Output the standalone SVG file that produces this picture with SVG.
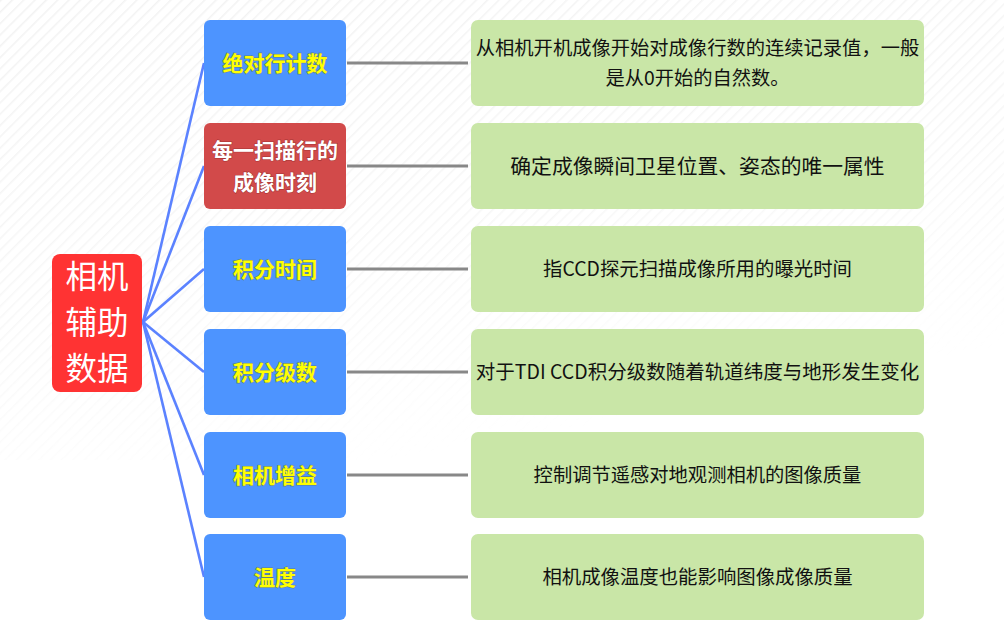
<svg xmlns="http://www.w3.org/2000/svg" width="1004" height="629" viewBox="0 0 1004 629">
<defs>
<pattern id="hatch" width="8" height="8" patternUnits="userSpaceOnUse" patternTransform="rotate(45)">
<line x1="0" y1="0" x2="0" y2="8" stroke="#f2f2f2" stroke-width="3"/>
</pattern>
<linearGradient id="fade" x1="0" y1="0" x2="0.4" y2="1">
<stop offset="0" stop-color="#fff" stop-opacity="1"/>
<stop offset="0.6" stop-color="#fff" stop-opacity="0.6"/>
<stop offset="1" stop-color="#fff" stop-opacity="0"/>
</linearGradient>
<mask id="m"><rect x="0" y="0" width="1004" height="460" fill="url(#fade)"/></mask>
</defs>
<style>
.cn{font-family:"Noto Sans CJK SC","Microsoft YaHei",sans-serif;}
.blue{fill:#4d94ff;}
.green{fill:#c9e6a7;}
.lbl{font-weight:bold;font-size:21px;fill:#ffff00;text-anchor:middle;paint-order:stroke;stroke:#6b6b20;stroke-width:1.2;stroke-opacity:0.55;}
.wl{font-weight:bold;font-size:21px;fill:#ffffff;text-anchor:middle;paint-order:stroke;stroke:#7a2020;stroke-width:1.2;stroke-opacity:0.5;}
.desc{fill:#111;text-anchor:middle;}
.root{font-size:31.5px;fill:#fff;text-anchor:middle;}
.blink{stroke:#5b82ff;stroke-width:2.6;fill:none;}
.glink{stroke:#888;stroke-width:3;}
</style>
<rect width="1004" height="629" fill="#fff"/>
<rect width="1004" height="460" fill="url(#hatch)" mask="url(#m)"/>
<g id="connectors">
<line class="blink" x1="143" y1="322" x2="204" y2="63"/>
<line class="blink" x1="143" y1="322" x2="204" y2="166"/>
<line class="blink" x1="143" y1="322" x2="204" y2="269"/>
<line class="blink" x1="143" y1="322" x2="204" y2="372"/>
<line class="blink" x1="143" y1="322" x2="204" y2="475"/>
<line class="blink" x1="143" y1="322" x2="204" y2="577"/>
<line class="glink" x1="347" y1="63" x2="468" y2="63"/>
<line class="glink" x1="347" y1="166" x2="468" y2="166"/>
<line class="glink" x1="347" y1="269" x2="468" y2="269"/>
<line class="glink" x1="347" y1="372" x2="468" y2="372"/>
<line class="glink" x1="347" y1="475" x2="468" y2="475"/>
<line class="glink" x1="347" y1="577" x2="468" y2="577"/>
</g>
<g id="root">
<rect x="52" y="254" width="90" height="138" rx="8" fill="#ff3333"/>
<text class="cn root" x="97" y="288"><tspan x="97" y="288">相机</tspan><tspan x="97" y="334">辅助</tspan><tspan x="97" y="380">数据</tspan></text>
</g>
<g id="n1">
<rect class="blue" x="204" y="20" width="142" height="86" rx="6"/>
<text class="cn lbl" x="275" y="70.5">绝对行计数</text>
</g>
<g id="n2">
<rect x="204" y="123" width="142" height="86" rx="6" fill="#d24a4a"/>
<text class="cn wl" x="275" y="158"><tspan x="275" y="158">每一扫描行的</tspan><tspan x="275" y="190">成像时刻</tspan></text>
</g>
<g id="n3">
<rect class="blue" x="204" y="226" width="142" height="86" rx="6"/>
<text class="cn lbl" x="275" y="276.5">积分时间</text>
</g>
<g id="n4">
<rect class="blue" x="204" y="329" width="142" height="86" rx="6"/>
<text class="cn lbl" x="275" y="379.5">积分级数</text>
</g>
<g id="n5">
<rect class="blue" x="204" y="432" width="142" height="86" rx="6"/>
<text class="cn lbl" x="275" y="482.5">相机增益</text>
</g>
<g id="n6">
<rect class="blue" x="204" y="534" width="142" height="86" rx="6"/>
<text class="cn lbl" x="275" y="584.5">温度</text>
</g>
<g id="d1">
<rect class="green" x="471" y="20" width="453" height="86" rx="7"/>
<text class="cn desc" x="697.5" y="55" font-size="19.3"><tspan x="697.5" y="55">从相机开机成像开始对成像行数的连续记录值，一般</tspan><tspan x="697.5" y="85">是从0开始的自然数。</tspan></text>
</g>
<g id="d2">
<rect class="green" x="471" y="123" width="453" height="86" rx="7"/>
<text class="cn desc" x="697.5" y="173.5" font-size="20.8">确定成像瞬间卫星位置、姿态的唯一属性</text>
</g>
<g id="d3">
<rect class="green" x="471" y="226" width="453" height="86" rx="7"/>
<text class="cn desc" x="697.5" y="276" font-size="19.4">指CCD探元扫描成像所用的曝光时间</text>
</g>
<g id="d4">
<rect class="green" x="471" y="329" width="453" height="86" rx="7"/>
<text class="cn desc" x="697.5" y="378.5" font-size="19.5">对于TDI CCD积分级数随着轨道纬度与地形发生变化</text>
</g>
<g id="d5">
<rect class="green" x="471" y="432" width="453" height="86" rx="7"/>
<text class="cn desc" x="697.5" y="482" font-size="19.3">控制调节遥感对地观测相机的图像质量</text>
</g>
<g id="d6">
<rect class="green" x="471" y="534" width="453" height="86" rx="7"/>
<text class="cn desc" x="697.5" y="584" font-size="19.4">相机成像温度也能影响图像成像质量</text>
</g>
</svg>
